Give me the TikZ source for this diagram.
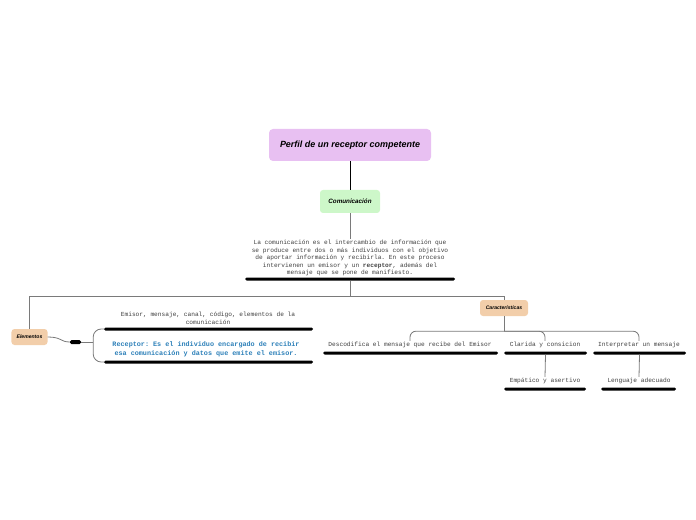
\documentclass[tikz,border=0pt]{standalone}
\usepackage{fontspec}
\setmainfont{Liberation Sans}
\setmonofont{Liberation Mono}
\definecolor{purp}{HTML}{E8C0F2}
\definecolor{grn}{HTML}{CDF7C9}
\definecolor{peach}{HTML}{F2CEAA}
\definecolor{blu}{HTML}{2C7FB8}
\definecolor{conncol}{HTML}{7A7A7A}
\tikzset{
 mainbox/.style={rounded corners=4bp, fill=purp, minimum width=162bp, minimum height=32bp, inner sep=0, font=\fontsize{9}{10}\selectfont\bfseries\itshape},
 subbox/.style={rounded corners=3bp, fill=grn, minimum width=60bp, minimum height=23bp, inner sep=0, font=\fontsize{6.3}{8}\selectfont\bfseries\itshape},
 tagbox/.style={rounded corners=3bp, fill=peach, inner sep=0, minimum height=16bp, font=\fontsize{5.1}{6}\selectfont\bfseries\itshape},
 txt/.style={font=\fontsize{6.2}{7.6}\selectfont\ttfamily, align=center, inner sep=1bp, text=black!75},
 rectxt/.style={font=\fontsize{6.8}{9}\selectfont\ttfamily\bfseries, align=center, inner sep=1bp, text=blu},
 uline/.style={fill=black, rounded corners=1.5bp, minimum height=3bp, inner sep=0},
 conn/.style={draw=conncol, line width=0.8bp},
 bconn/.style={draw=black, line width=1bp},
}
\begin{document}
\begin{tikzpicture}[x=1bp,y=-1bp]
\useasboundingbox (0,0) rectangle (696,520);
\node[mainbox] (title) at (350,145) {Perfil de un receptor competente};
\node[subbox] (com) at (350,201.5) {Comunicación};
\node[txt] (para) at (350,258) {La comunicación es el intercambio de información que\\se produce entre dos o más individuos con el objetivo\\de aportar información y recibirla. En este proceso\\intervienen un emisor y un \textbf{receptor}, además del\\mensaje que se pone de manifiesto.};
\node[uline, minimum width=210bp] (pl) at (350,279) {};
\node[tagbox, minimum width=36bp] (elem) at (29.5,337) {Elementos};
\node[tagbox, minimum width=48bp] (car) at (504,308) {Características};
\node[uline, minimum width=11bp, minimum height=4bp] (bar) at (75.5,342) {};
\node[txt] (emtxt) at (208,318.5) {Emisor, mensaje, canal, código, elementos de la\\comunicación};
\node[uline, minimum width=209bp] (u1) at (208.5,329) {};
\node[rectxt] (rec) at (206,349.5) {Receptor: Es el individuo encargado de recibir\\esa comunicación y datos que emite el emisor.};
\node[uline, minimum width=209bp] (u2) at (208.5,362) {};
\node[txt] (desc) at (410,345) {Descodifica el mensaje que recibe del Emisor};
\node[uline, minimum width=175bp] (ud) at (410.5,353) {};
\node[txt] (clar) at (545,345) {Clarida y consicion};
\node[uline, minimum width=83bp] (uc) at (545.5,353) {};
\node[txt] (interp) at (639,345) {Interpretar un mensaje};
\node[uline, minimum width=93bp] (ui) at (639.5,353) {};
\node[txt] (emp) at (545,381) {Empático y asertivo};
\node[uline, minimum width=82bp] (ue) at (545,389) {};
\node[txt] (len) at (639,381) {Lenguaje adecuado};
\node[uline, minimum width=75bp] (ul) at (638.5,389) {};
% connectors
\draw[bconn] (title) -- (com);
\draw[conn] (com.south) -- (para.north);
\draw[conn] (pl.south) -- ++(0,16) coordinate (j);
\draw[conn] (j) -| (elem.north);
\draw[conn] (j) -| (car.north);
\draw[conn] (elem.east) .. controls (62,337) and (60,342) .. (bar.west);
\draw[conn] (bar.east) -- ++(12,0) coordinate (b);
\draw[conn, rounded corners=8bp] (b) |- (u1.west);
\draw[conn, rounded corners=8bp] (b) |- (u2.west);
\draw[conn] (car.south) -- ++(0,15) coordinate (c);
\draw[conn, rounded corners=6bp] (c) -| (desc.north);
\draw[conn, rounded corners=6bp] (c) -| (clar.north);
\draw[conn, rounded corners=6bp] (c) -| (interp.north);
\draw[conn] (uc.south) -- (emp.north);
\draw[conn] (ui.south) -- (len.north);
\end{tikzpicture}
\end{document}
